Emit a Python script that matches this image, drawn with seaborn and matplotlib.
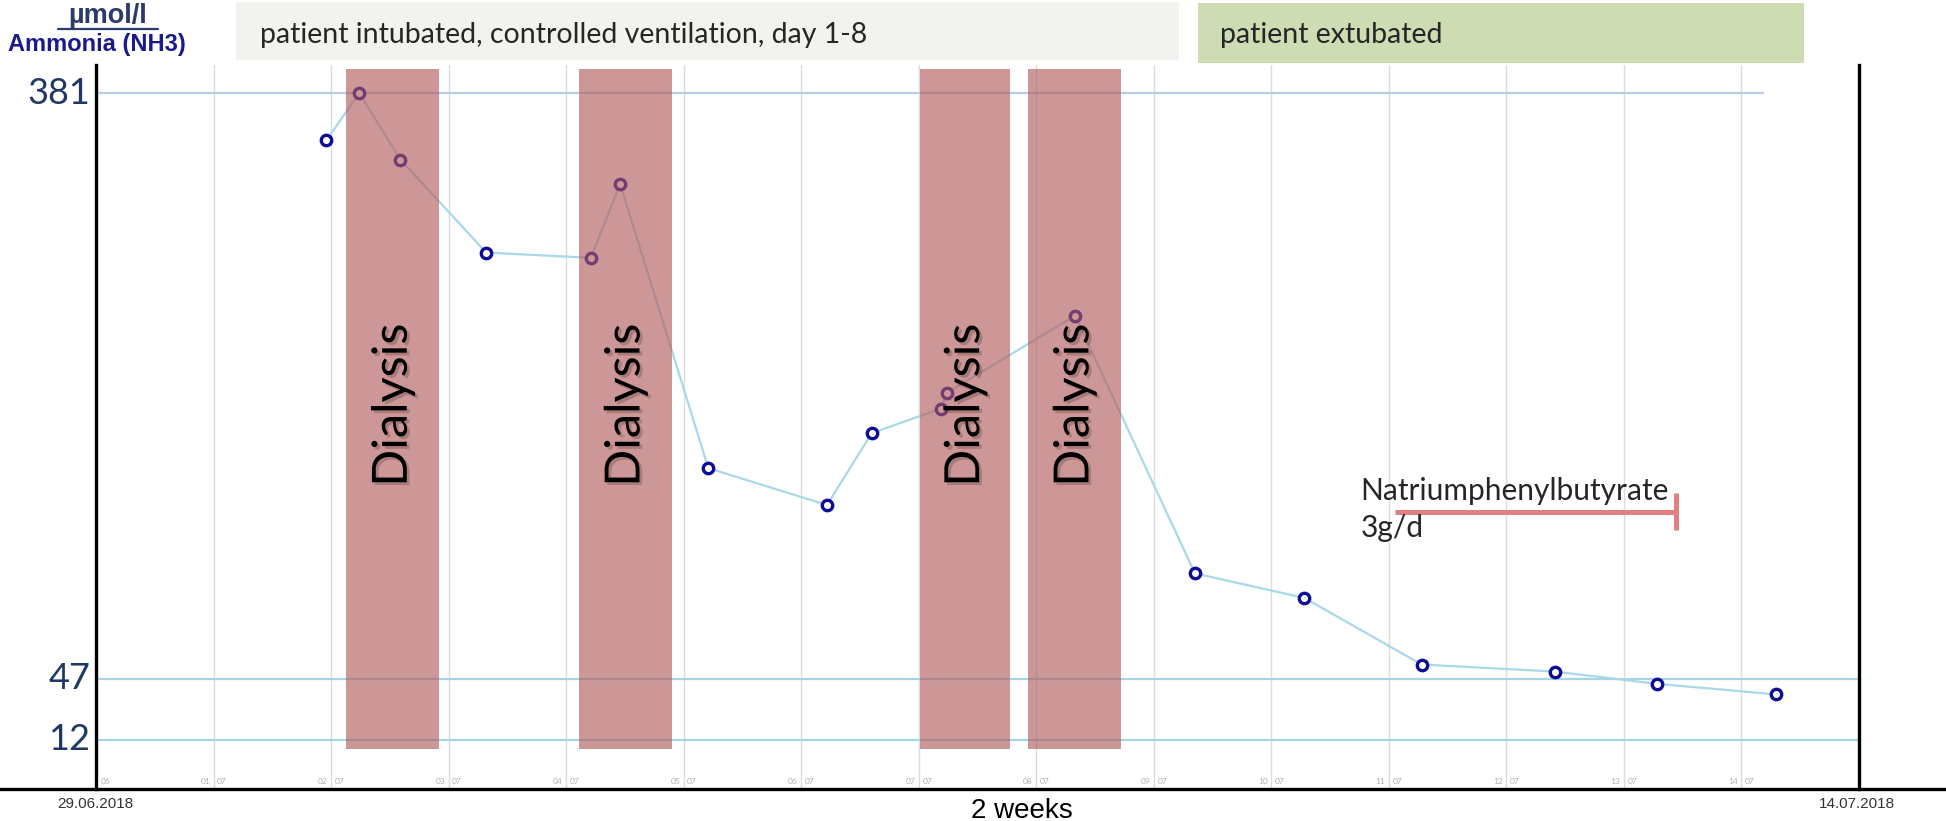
import numpy as np
import pandas as pd
import seaborn as sns
import matplotlib.pyplot as plt
from matplotlib.lines import Line2D
from matplotlib.patches import Rectangle
import matplotlib.patheffects as pe

# days counted from 30.06.2018 (0) to 15.07.2018 (15)
days = [1.96, 2.24, 2.59, 3.32, 4.21, 4.46, 5.21, 6.22, 6.60, 7.19, 7.24, 8.33,
        9.35, 10.28, 11.28, 12.41, 13.28, 14.29]
nh3 = [354, 381, 343, 290, 287, 329, 167, 146, 187, 201, 210, 254,
       107, 93, 55, 51, 44, 38]

dialysis_start = [2.13, 4.11, 7.01, 7.93]
dialysis_end = [2.92, 4.90, 7.78, 8.72]

ref_values = [381, 47, 12]
ref_labels = ["381", "47", "12"]

tick_days = ["01", "02", "03", "04", "05", "06", "07", "08", "09", "10", "11", "12", "13", "14"]

drug_start = 11.05
drug_end = 13.44
drug_level = 142

W, H = 1946, 821


def main():
    sns.set_style("white")
    plt.rcParams['font.family'] = ['Lato', 'DejaVu Sans']

    fig = plt.figure(figsize=(W / 100, H / 100), dpi=100)
    ax = fig.add_axes([96 / W, (H - 789) / H, (1859 - 96) / W, (789 - 65) / H])
    ax.set_xlim(0, 15)
    ax.set_ylim(-16, 397)

    # vertical day grid
    for d in range(1, 15):
        ax.axvline(d, color='#dcdcdc', lw=1.0, zorder=0)

    # reference lines
    ax.plot([0, 14.18], [ref_values[0]] * 2, color='#b9cce6', lw=1.6, zorder=1)
    for v in ref_values[1:]:
        ax.axhline(v, color='#a6d6e6', lw=1.6, zorder=1)

    # ammonia curve
    df = pd.DataFrame({'day': days, 'nh3': nh3})
    sns.lineplot(data=df, x='day', y='nh3', ax=ax, color='#a8d8ea', lw=1.6,
                 marker='o', markersize=7.5, markerfacecolor='white',
                 markeredgecolor='#0c0c96', markeredgewidth=2.4, zorder=2)

    # dialysis bars
    widths = [e - s for s, e in zip(dialysis_start, dialysis_end)]
    ax.bar(dialysis_start, 395 - 7, bottom=7, width=widths, align='edge',
           color='#b15b5b', alpha=0.63, lw=0, zorder=4)
    for s, e in zip(dialysis_start, dialysis_end):
        ax.text((s + e) / 2, 203, "Dialysis", rotation=90, ha='center', va='center',
                fontsize=35, color='black', zorder=5,
                path_effects=[pe.withSimplePatchShadow(offset=(2, -2), alpha=0.18)])

    # drug annotation
    ax.plot([drug_start, drug_end], [drug_level, drug_level], color='#e08080', lw=3.6,
            solid_capstyle='butt', zorder=3)
    ax.plot([drug_end, drug_end], [132, 153], color='#e08080', lw=3.6,
            solid_capstyle='butt', zorder=3)
    ax.text(10.76, 149, "Natriumphenylbutyrate", fontsize=21.5, ha='left', va='baseline', zorder=5)
    ax.text(10.76, 128, "3g/d", fontsize=21.5, ha='left', va='baseline', zorder=5)

    # y labels
    ax.set_yticks([])
    ax.set_xticks([])
    for v, lab in zip(ref_values, ref_labels):
        ax.text(-0.05, v, lab, ha='right', va='center', fontsize=26, color='#1f3864',
                clip_on=False)

    # small date ticks
    ax.text(0.04, -12, "06", fontsize=6, color='#b0b0b0', ha='left', va='center')
    for i, dd in enumerate(tick_days):
        ax.text(i + 1 - 0.03, -12, dd, fontsize=6, color='#b0b0b0', ha='right', va='center')
        ax.text(i + 1 + 0.03, -12, "07", fontsize=6, color='#b0b0b0', ha='left', va='center')

    ax.spines['top'].set_visible(False)
    for side in ['left', 'right']:
        ax.spines[side].set_color('black')
        ax.spines[side].set_linewidth(2.4)
    ax.spines['bottom'].set_visible(False)
    ax.set_xlabel('')
    ax.set_ylabel('')

    # bottom line across whole figure
    fig.add_artist(Line2D([0, 1], [(H - 789) / H] * 2, color='black', lw=2.4))

    # top boxes
    fig.add_artist(Rectangle((236 / W, (H - 60) / H), (1179 - 236) / W, 58 / H,
                             facecolor='#f2f2ee', edgecolor='none'))
    fig.text(260 / W, (H - 35) / H, "patient intubated, controlled ventilation, day 1-8",
             fontsize=20.5, va='center', ha='left')
    fig.add_artist(Rectangle((1198 / W, (H - 63) / H), (1804 - 1198) / W, 60 / H,
                             facecolor='#cedcb4', edgecolor='none'))
    fig.text(1220 / W, (H - 35) / H, "patient extubated", fontsize=20.5, va='center', ha='left')

    # axis title
    fig.text(108 / W, (H - 16) / H, "µmol/l", fontsize=19.5, fontweight='bold', color='#2b3a68',
             ha='center', va='center', family='Liberation Sans')
    fig.add_artist(Line2D([58 / W, 158 / W], [(H - 29) / H] * 2, color='#2b3a68', lw=1.6))
    fig.text(97 / W, (H - 44) / H, "Ammonia (NH3)", fontsize=17, fontweight='bold', color='#1a1a8e',
             ha='center', va='center', family='Liberation Sans')

    # bottom labels
    fig.text(95 / W, (H - 804) / H, "29.06.2018", fontsize=11, color='#333333',
             ha='center', va='center', family='Liberation Sans')
    fig.text(1857 / W, (H - 804) / H, "14.07.2018", fontsize=11, color='#333333',
             ha='center', va='center', family='Liberation Sans')
    fig.text(1022 / W, (H - 818) / H, "2 weeks", fontsize=20, color='black',
             ha='center', va='baseline', family='Liberation Sans')

    fig.savefig("out.png", dpi=100)


main()
